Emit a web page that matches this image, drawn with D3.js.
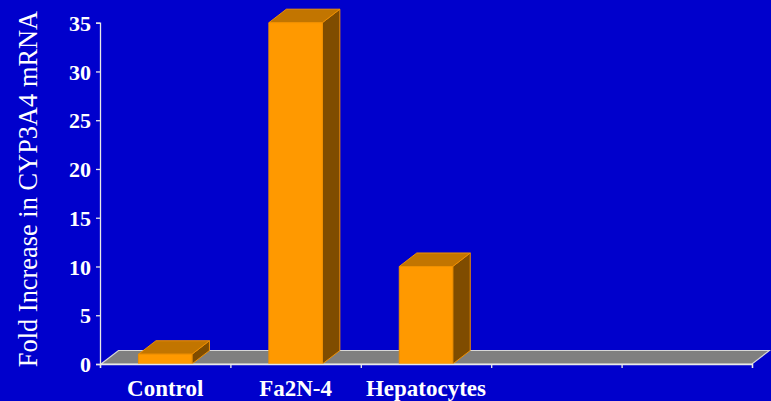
<!DOCTYPE html>
<html>
<head>
<meta charset="utf-8">
<script src="https://cdn.jsdelivr.net/npm/d3@7"></script>
<style>
  html, body { margin: 0; padding: 0; background: #0000CC; }
  svg { display: block; }
  text { font-family: "Liberation Serif", "Times New Roman", serif; fill: #ffffff; }
</style>
</head>
<body>
<script>
// Fold induction of CYP3A4 mRNA per cell type
const categories = ["Control", "Fa2N-4", "Hepatocytes"];
const values = [1, 35, 10];
const slotCount = 5;                      // category slots along the floor (two left empty)
const yTicks = [0, 5, 10, 15, 20, 25, 30, 35];
const yTitle = "Fold Increase in CYP3A4 mRNA";

const W = 771, H = 401;
const svg = d3.select("body").append("svg").attr("width", W).attr("height", H);
svg.append("rect").attr("width", W).attr("height", H).attr("fill", "#0000CC");

const x0 = 100, x1 = 752, y0 = 364, yTop = 22.7;
const depthX = 17.5, depthY = -13.5;      // oblique 3-D offset
const barFrac = 0.41;

const x = d3.scaleLinear().domain([0, slotCount]).range([x0, x1]);
const y = d3.scaleLinear().domain([0, 35]).range([y0, yTop]);

// floor
const floorPts = [[x0 + 1, y0], [x1, y0], [x1 + depthX, y0 + depthY], [x0 + 1 + depthX, y0 + depthY]];
svg.append("path")
  .attr("d", d3.line()(floorPts) + "Z")
  .attr("fill", "#808080")
  .attr("stroke", "#d8d8d8")
  .attr("stroke-width", 1.2);

// bars
const slotW = x(1) - x(0);
const bars = svg.append("g");
values.forEach((v, i) => {
  const cx = x(i + 0.5);
  const bw = slotW * barFrac;
  const L = cx - bw / 2, R = cx + bw / 2, T = y(v), B = y(0);
  const g = bars.append("g").attr("stroke", "#F09000").attr("stroke-width", 1).attr("stroke-linejoin", "round");
  // side face
  g.append("path")
    .attr("d", d3.line()([[R, B], [R + depthX, B + depthY], [R + depthX, T + depthY], [R, T]]) + "Z")
    .attr("fill", "#7F4C00");
  // top face
  g.append("path")
    .attr("d", d3.line()([[L, T], [L + depthX, T + depthY], [R + depthX, T + depthY], [R, T]]) + "Z")
    .attr("fill", "#C27500");
  // front face
  g.append("rect")
    .attr("x", L).attr("y", T).attr("width", bw).attr("height", B - T)
    .attr("fill", "#FF9900");
});

// y axis
const yAxis = svg.append("g")
  .attr("transform", `translate(${x0},0)`)
  .call(d3.axisLeft(y).tickValues(yTicks).tickSize(4).tickPadding(5).tickFormat(d3.format("d")));
yAxis.select(".domain").attr("stroke", "#e8e8e8").attr("stroke-width", 1.3);
yAxis.selectAll(".tick line").attr("stroke", "#e8e8e8").attr("stroke-width", 1.3);
yAxis.selectAll(".tick text")
  .attr("fill", "#ffffff")
  .style("font-family", "'Liberation Serif', serif")
  .style("font-size", "22px")
  .style("font-weight", "bold")
  .attr("dy", "0.35em");

// x axis
const xAxis = svg.append("g")
  .attr("transform", `translate(0,${y0})`)
  .call(d3.axisBottom(x).tickValues(d3.range(slotCount + 1)).tickSize(4).tickFormat(""));
xAxis.select(".domain").attr("stroke", "#e8e8e8").attr("stroke-width", 1.3);
xAxis.selectAll(".tick line").attr("stroke", "#e8e8e8").attr("stroke-width", 1.3);

// category labels
svg.append("g").selectAll("text").data(categories).join("text")
  .attr("x", (d, i) => x(i + 0.5))
  .attr("y", 396)
  .attr("text-anchor", "middle")
  .style("font-size", "23px")
  .style("font-weight", "bold")
  .text(d => d);

// y title
svg.append("text")
  .attr("transform", `translate(37,189) rotate(-90)`)
  .attr("text-anchor", "middle")
  .style("font-size", "26.4px")
  .text(yTitle);
</script>
</body>
</html>
